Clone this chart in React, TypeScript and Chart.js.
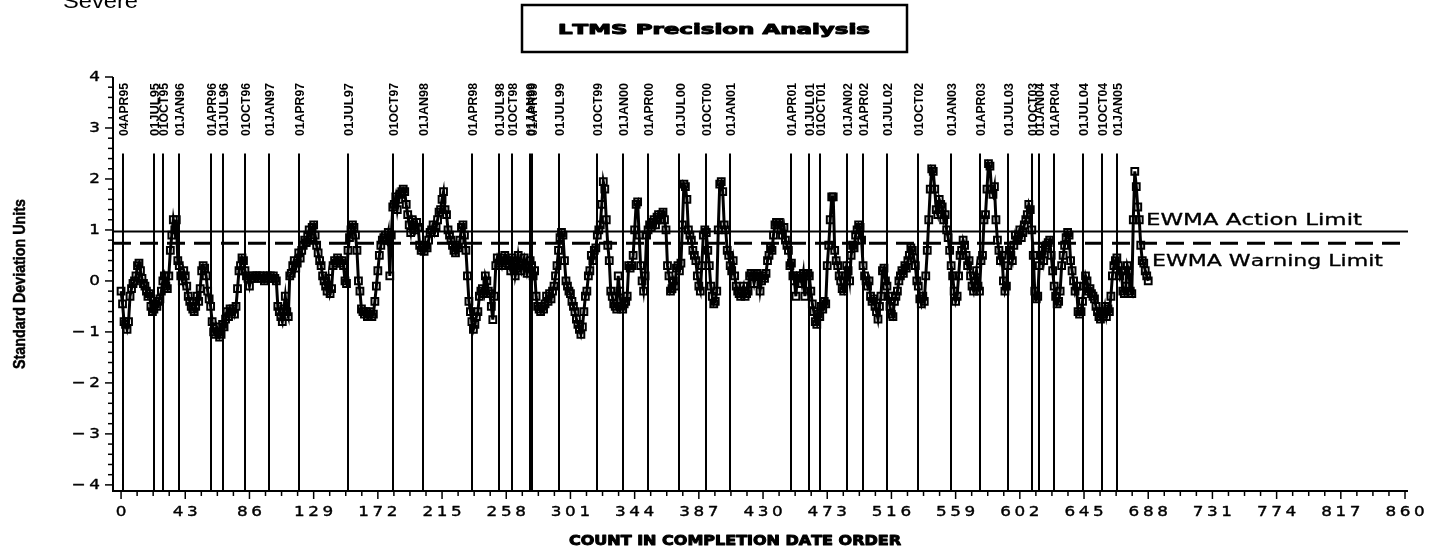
import React, { useEffect, useRef } from "react";
import { Chart, registerables } from "chart.js";

Chart.register(...registerables);

// ---------- text ----------
const chartTitle = "LTMS Precision Analysis";
const cornerLabel = "Severe";
const xAxisTitle = "COUNT IN COMPLETION DATE ORDER";
const yAxisTitle = "Standard Deviation Units";
const actionLabel = "EWMA Action Limit";
const warningLabel = "EWMA Warning Limit";

// ---------- axes ----------
const xTickValues = [0, 43, 86, 129, 172, 215, 258, 301, 344, 387, 430, 473, 516, 559, 602, 645, 688, 731, 774, 817, 860];
const yTickValues = [-4, -3, -2, -1, 0, 1, 2, 3, 4];

// ---------- limits ----------
const actionLimit = 0.97;
const warningLimit = 0.74;

// ---------- date reference lines ----------
const dateLabels = [
  "04APR95", "01JUL95", "01OCT95", "01JAN96", "01APR96", "01JUL96", "01OCT96", "01JAN97", "01APR97", "01JUL97",
  "01OCT97", "01JAN98", "01APR98", "01JUL98", "01OCT98", "01JAN99", "01APR99", "01JUL99", "01OCT99", "01JAN00",
  "01APR00", "01JUL00", "01OCT00", "01JAN01", "01APR01", "01JUL01", "01OCT01", "01JAN02", "01APR02", "01JUL02",
  "01OCT02", "01JAN03", "01APR03", "01JUL03", "01OCT03", "01JAN04", "01APR04", "01JUL04", "01OCT04", "01JAN05",
];
const dateCounts = [
  1, 22, 28, 39, 60, 68, 83, 99, 119, 152,
  182, 202, 235, 253, 262, 274, 275, 293, 319, 336,
  353, 374, 392, 408, 449, 461, 468, 486, 497, 513,
  534, 556, 575, 594, 610, 615, 625, 644, 657, 667,
];

// ---------- EWMA series (count order 0..688) ----------
const ewmaValues = [
  -0.2, -0.45, -0.8, -0.85, -0.95, -0.8, -0.3, -0.15, -0.05, 0.0, 0.1, 0.3, 0.35, 0.2, 0.05, -0.05, -0.1, -0.2, -0.3, -0.25,
  -0.5, -0.6, -0.55, -0.45, -0.5, -0.4, -0.35, -0.2, 0.0, 0.1, -0.1, -0.15, 0.1, 0.6, 0.9, 1.2, 1.0, 1.2, 0.4, 0.3,
  0.1, 0.0, 0.2, 0.1, -0.1, -0.3, -0.4, -0.5, -0.55, -0.6, -0.5, -0.3, -0.4, -0.15, 0.2, 0.3, 0.25, 0.1, -0.2, -0.35,
  -0.5, -0.8, -1.0, -1.05, -0.9, -1.0, -1.1, -1.05, -0.85, -0.9, -0.75, -0.6, -0.7, -0.55, -0.6, -0.55, -0.65, -0.5, -0.15, 0.2,
  0.3, 0.45, 0.4, 0.2, 0.1, 0.05, -0.1, 0.05, 0.1, 0.05, 0.1, 0.1, 0.05, 0.1, 0.05, 0.1, 0.0, 0.05, 0.1, 0.05,
  0.1, 0.05, 0.1, 0.05, 0.0, -0.5, -0.6, -0.7, -0.8, -0.55, -0.3, -0.6, -0.7, 0.1, 0.15, 0.3, 0.4, 0.25, 0.35, 0.55,
  0.45, 0.6, 0.7, 0.8, 0.75, 0.9, 1.0, 0.85, 1.05, 1.1, 0.9, 0.7, 0.55, 0.4, 0.3, 0.1, 0.0, -0.1, -0.2, 0.05,
  -0.25, -0.15, 0.3, 0.4, 0.35, 0.45, 0.4, 0.35, 0.4, 0.3, 0.0, -0.05, 0.6, 0.85, 1.0, 1.1, 1.05, 0.9, 0.6, 0.0,
  -0.2, -0.55, -0.6, -0.65, -0.6, -0.7, -0.65, -0.6, -0.7, -0.65, -0.4, -0.1, 0.2, 0.5, 0.7, 0.8, 0.85, 0.9, 0.8, 0.95,
  0.1, 0.9, 1.45, 1.5, 1.65, 1.4, 1.6, 1.7, 1.75, 1.8, 1.75, 1.5, 1.3, 1.1, 0.95, 1.2, 1.1, 1.0, 1.15, 1.05,
  0.7, 0.6, 0.65, 0.58, 0.7, 0.65, 0.8, 0.95, 1.0, 1.1, 0.95, 1.05, 1.2, 1.35, 1.4, 1.6, 1.75, 1.4, 1.3, 1.0,
  0.9, 0.8, 0.7, 0.6, 0.55, 0.7, 0.65, 0.8, 1.05, 1.1, 0.9, 0.6, 0.1, -0.4, -0.6, -0.8, -0.95, -0.85, -0.7, -0.6,
  -0.3, -0.2, -0.15, -0.25, 0.1, 0.0, -0.2, -0.25, -0.5, -0.76, -0.3, 0.3, 0.45, 0.35, 0.4, 0.3, 0.45, 0.5, 0.35, 0.4,
  0.3, 0.2, 0.45, 0.4, 0.1, 0.25, 0.5, 0.3, 0.2, 0.35, 0.45, 0.3, 0.15, 0.25, 0.4, 0.3, 0.1, 0.2, -0.3, -0.5,
  -0.55, -0.6, -0.5, -0.55, -0.45, -0.3, -0.4, -0.25, -0.35, -0.2, -0.1, 0.1, 0.3, 0.6, 0.85, 0.95, 0.9, 0.4, 0.0, -0.1,
  -0.2, -0.25, -0.4, -0.5, -0.6, -0.75, -0.85, -0.95, -1.05, -0.9, -0.6, -0.3, -0.2, 0.1, 0.2, 0.5, 0.4, 0.6, 0.65, 0.9,
  1.0, 1.1, 1.5, 1.95, 1.8, 1.2, 0.7, 0.4, -0.2, -0.3, -0.45, -0.5, -0.55, 0.1, -0.2, -0.5, -0.55, -0.45, -0.4, -0.3,
  0.3, 0.25, 0.3, 0.5, 1.0, 1.5, 1.55, 0.9, 0.3, 0.0, -0.2, 0.1, 0.9, 1.0, 1.1, 1.05, 1.15, 1.2, 1.1, 1.25,
  1.3, 1.2, 1.3, 1.35, 1.2, 1.0, 0.3, 0.1, -0.2, -0.15, 0.0, -0.1, 0.25, 0.3, 0.2, 0.35, 1.1, 1.9, 1.85, 1.6,
  1.0, 0.9, 0.8, 0.6, 0.5, 0.4, 0.1, -0.1, -0.2, 0.3, 0.9, 1.0, 0.95, 0.6, 0.3, -0.1, -0.3, -0.45, -0.4, -0.2,
  1.0, 1.9, 1.95, 1.75, 1.1, 1.0, 0.6, 0.5, 0.3, 0.2, 0.4, 0.1, -0.1, -0.2, -0.25, -0.3, -0.2, -0.1, -0.3, -0.25,
  -0.2, 0.1, 0.15, 0.1, -0.05, 0.1, 0.15, 0.1, -0.2, 0.0, 0.1, 0.05, 0.15, 0.4, 0.5, 0.65, 0.6, 0.9, 1.1, 1.15,
  1.1, 1.15, 1.0, 0.9, 1.05, 0.8, 0.7, 0.6, 0.3, 0.35, 0.1, 0.0, -0.3, 0.1, 0.05, 0.1, -0.05, 0.15, -0.3, 0.1,
  0.15, 0.1, -0.2, -0.45, -0.6, -0.8, -0.85, -0.65, -0.7, -0.5, -0.55, -0.4, -0.45, 0.3, 0.7, 1.2, 1.65, 1.65, 0.6, 0.4,
  0.3, 0.1, 0.0, -0.15, -0.2, 0.1, 0.3, 0.2, 0.0, 0.5, 0.7, 0.65, 0.9, 1.0, 1.1, 1.05, 0.8, 0.3, 0.1, 0.0,
  -0.1, 0.0, -0.3, -0.4, -0.35, -0.5, -0.6, -0.75, -0.5, -0.3, 0.2, 0.25, 0.0, -0.1, -0.3, -0.5, -0.65, -0.7, -0.4, -0.3,
  -0.2, 0.0, 0.1, 0.2, 0.15, 0.3, 0.25, 0.4, 0.5, 0.65, 0.6, 0.45, 0.3, 0.0, -0.1, -0.35, -0.45, -0.3, -0.4, 0.1,
  0.6, 1.2, 1.8, 2.2, 2.15, 1.8, 1.4, 1.3, 1.6, 1.5, 1.45, 1.2, 1.3, 1.0, 0.85, 0.6, 0.3, 0.1, -0.2, -0.4,
  -0.3, 0.1, 0.5, 0.6, 0.8, 0.7, 0.5, 0.3, 0.4, 0.1, -0.1, -0.2, 0.0, 0.2, -0.1, -0.2, 0.4, 0.5, 1.2, 1.3,
  1.8, 2.3, 2.25, 1.8, 1.7, 1.85, 1.2, 0.8, 0.6, 0.4, 0.5, 0.0, -0.2, -0.1, 0.3, 0.6, 0.5, 0.4, 0.7, 0.9,
  0.8, 0.9, 1.0, 0.85, 0.95, 1.1, 1.2, 1.3, 1.5, 1.4, 1.0, 0.5, -0.2, -0.35, -0.3, 0.3, 0.5, 0.6, 0.4, 0.65,
  0.7, 0.75, 0.8, 0.5, 0.2, -0.1, -0.3, -0.45, -0.4, -0.2, 0.3, 0.5, 0.7, 0.85, 0.95, 0.9, 0.4, 0.2, 0.0, -0.2,
  -0.1, -0.6, -0.65, -0.6, -0.4, -0.1, 0.1, 0.0, -0.2, -0.15, -0.25, -0.3, -0.35, -0.5, -0.6, -0.7, -0.75, -0.6, -0.65, -0.5,
  -0.7, -0.55, -0.6, -0.3, 0.1, 0.3, 0.4, 0.45, 0.3, 0.1, 0.2, -0.2, -0.25, -0.1, 0.3, 0.2, -0.2, -0.25, 1.2, 2.15,
  1.85, 1.45, 1.2, 0.7, 0.4, 0.35, 0.2, 0.1, 0.0,
];

// ---------- layout ----------
const CANVAS_W = 1429;
const CANVAS_H = 550;
const AREA = { left: 113, top: 77, right: 1408, bottom: 491 };
const X_MIN = -5.4;
const X_MAX = 862;
const Y_MIN = -4.12;
const Y_MAX = 4;
const REF_LINE_TOP = 2.5;

type TextOpts = {
  font: string;
  sp?: number;
  sx?: number;
  width?: number;
  align?: "left" | "center" | "right";
  baseline?: CanvasTextBaseline;
  rot?: number;
  heavy?: number;
};

function drawText(ctx: CanvasRenderingContext2D, s: string, x: number, y: number, o: TextOpts) {
  ctx.save();
  ctx.font = o.font;
  ctx.textBaseline = o.baseline || "alphabetic";
  ctx.textAlign = "left";
  ctx.fillStyle = "#000";
  ctx.strokeStyle = "#000";
  ctx.lineJoin = "round";
  const sp = o.sp || 0;
  const chars = Array.from(s);
  const ws = chars.map((c) => ctx.measureText(c).width);
  const nat = ws.reduce((a, b) => a + b, 0) + sp * (chars.length - 1);
  const sx = o.width ? o.width / nat : o.sx || 1;
  ctx.translate(x, y);
  if (o.rot) ctx.rotate(o.rot);
  ctx.scale(sx, 1);
  let cx = o.align === "center" ? -nat / 2 : o.align === "right" ? -nat : 0;
  chars.forEach((c, i) => {
    ctx.fillText(c, cx, 0);
    if (o.heavy) {
      ctx.lineWidth = o.heavy;
      ctx.strokeText(c, cx, 0);
    }
    cx += ws[i] + sp;
  });
  ctx.restore();
}

const SIMPLEX = '14px "DejaVu Sans"';

const decorPlugin = {
  id: "sasDecor",
  beforeDatasetsDraw(chart: any) {
    const ctx: CanvasRenderingContext2D = chart.ctx;
    const xs = chart.scales.x;
    const ys = chart.scales.y;
    const ca = chart.chartArea;
    ctx.save();
    ctx.strokeStyle = "#000";
    ctx.lineWidth = 2;
    const yTop = ys.getPixelForValue(REF_LINE_TOP);
    dateCounts.forEach((c) => {
      const px = Math.round(xs.getPixelForValue(c));
      ctx.beginPath();
      ctx.moveTo(px, yTop);
      ctx.lineTo(px, ca.bottom);
      ctx.stroke();
    });
    const ya = ys.getPixelForValue(actionLimit);
    ctx.lineWidth = 2;
    ctx.beginPath();
    ctx.moveTo(ca.left, ya);
    ctx.lineTo(ca.right, ya);
    ctx.stroke();
    const yw = ys.getPixelForValue(warningLimit);
    ctx.lineWidth = 3;
    ctx.setLineDash([18, 9]);
    ctx.beginPath();
    ctx.moveTo(ca.left, yw);
    ctx.lineTo(ca.right, yw);
    ctx.stroke();
    ctx.setLineDash([]);
    ctx.restore();
  },
  afterDatasetsDraw(chart: any) {
    const ctx: CanvasRenderingContext2D = chart.ctx;
    const xs = chart.scales.x;
    const ys = chart.scales.y;
    const ca = chart.chartArea;
    ctx.save();
    ctx.strokeStyle = "#000";
    ctx.fillStyle = "#000";
    ctx.lineWidth = 2;
    ctx.beginPath();
    ctx.moveTo(ca.left, ys.getPixelForValue(Y_MAX));
    ctx.lineTo(ca.left, ca.bottom);
    ctx.lineTo(ca.right, ca.bottom);
    ctx.stroke();

    ctx.lineWidth = 1.5;
    for (let i = 0; i < yTickValues.length; i++) {
      const v = yTickValues[i];
      const py = ys.getPixelForValue(v);
      ctx.beginPath();
      ctx.moveTo(ca.left - 8, py);
      ctx.lineTo(ca.left, py);
      ctx.stroke();
      if (i < yTickValues.length - 1) {
        const step = (yTickValues[i + 1] - v) / 5;
        for (let k = 1; k < 5; k++) {
          const my = ys.getPixelForValue(v + step * k);
          ctx.beginPath();
          ctx.moveTo(ca.left - 5, my);
          ctx.lineTo(ca.left, my);
          ctx.stroke();
        }
      }
      const label = v < 0 ? "\u2212" + Math.abs(v) : String(v);
      drawText(ctx, label, ca.left - 13, py, { font: SIMPLEX, sp: 3, sx: 1.2, align: "right", baseline: "middle", heavy: 0.4 });
    }

    for (let i = 0; i < xTickValues.length; i++) {
      const v = xTickValues[i];
      const px = xs.getPixelForValue(v);
      ctx.beginPath();
      ctx.moveTo(px, ca.bottom);
      ctx.lineTo(px, ca.bottom + 8);
      ctx.stroke();
      if (i < xTickValues.length - 1) {
        const step = (xTickValues[i + 1] - v) / 4;
        for (let k = 1; k < 4; k++) {
          const mx = xs.getPixelForValue(v + step * k);
          ctx.beginPath();
          ctx.moveTo(mx, ca.bottom);
          ctx.lineTo(mx, ca.bottom + 5);
          ctx.stroke();
        }
      }
      drawText(ctx, String(v), px, ca.bottom + 21, { font: SIMPLEX, sp: 3, sx: 1.2, align: "center", baseline: "middle", heavy: 0.4 });
    }

    dateCounts.forEach((c, i) => {
      const px = xs.getPixelForValue(c);
      drawText(ctx, dateLabels[i], px + 1.5, 136, {
        font: 'bold 13px "Liberation Sans"',
        width: 53,
        align: "left",
        baseline: "middle",
        rot: -Math.PI / 2,
      });
    });

    drawText(ctx, actionLabel, 1146, ys.getPixelForValue(actionLimit) - 6, { font: '15px "DejaVu Sans"', width: 216, align: "left", heavy: 0.3 });
    drawText(ctx, warningLabel, 1152, ys.getPixelForValue(warningLimit) + 23, { font: '15px "DejaVu Sans"', width: 231, align: "left", heavy: 0.3 });

    ctx.lineWidth = 2.5;
    ctx.strokeRect(522, 5, 385, 47);
    drawText(ctx, chartTitle, 714, 30, { font: 'bold 14px "DejaVu Sans"', width: 312, align: "center", baseline: "middle", heavy: 1 });
    drawText(ctx, cornerLabel, 63, 8, { font: '20px "Liberation Sans"', width: 75, align: "left" });
    drawText(ctx, xAxisTitle, 735, 541, { font: 'bold 14px "DejaVu Sans"', width: 332, align: "center", baseline: "middle", heavy: 1 });
    drawText(ctx, yAxisTitle, 20, (ca.top + ca.bottom) / 2, {
      font: 'bold 17px "Liberation Sans"',
      width: 170,
      align: "center",
      baseline: "middle",
      rot: -Math.PI / 2,
      heavy: 0.5,
    });
    ctx.restore();
  },
};

export default function App() {
  const ref = useRef<HTMLCanvasElement | null>(null);
  useEffect(() => {
    document.body.style.margin = "0";
    const canvas = ref.current;
    if (!canvas) return;
    const chart = new Chart(canvas, {
      type: "line",
      data: {
        datasets: [
          {
            data: ewmaValues.map((v, i) => ({ x: i, y: v })),
            borderColor: "#000",
            borderWidth: 3,
            pointStyle: "rect",
            pointRadius: 4.8,
            pointBorderWidth: 2,
            pointBorderColor: "#000",
            pointBackgroundColor: "rgba(0,0,0,0)",
            tension: 0,
            fill: false,
          },
        ],
      },
      options: {
        animation: false,
        responsive: false,
        devicePixelRatio: 1,
        layout: {
          padding: { left: AREA.left, top: AREA.top, right: CANVAS_W - AREA.right, bottom: CANVAS_H - AREA.bottom },
        },
        scales: {
          x: { type: "linear", display: false, min: X_MIN, max: X_MAX },
          y: { type: "linear", display: false, min: Y_MIN, max: Y_MAX },
        },
        plugins: { legend: { display: false }, tooltip: { enabled: false }, title: { display: false } },
      },
      plugins: [decorPlugin],
    } as any);
    return () => chart.destroy();
  }, []);
  return <canvas ref={ref} width={CANVAS_W} height={CANVAS_H} style={{ display: "block" }} />;
}
